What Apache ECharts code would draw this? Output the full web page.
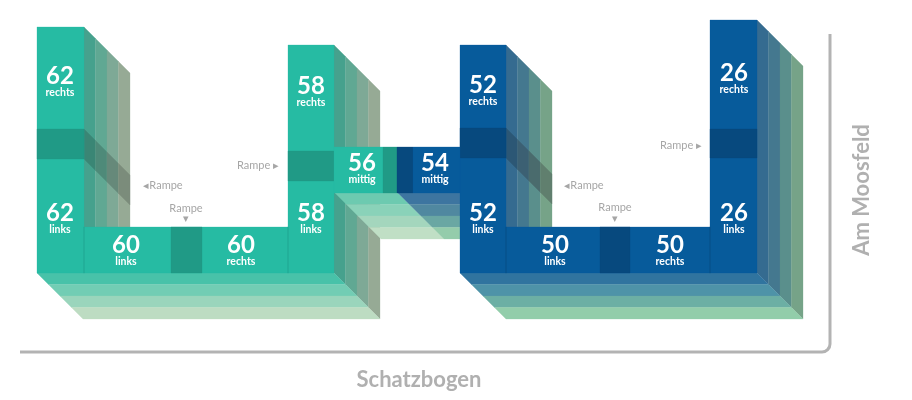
<!DOCTYPE html>
<html>
<head>
<meta charset="utf-8">
<title>Am Moosfeld</title>
<style>
  html, body { margin: 0; padding: 0; background: #fff; }
  #main { width: 912px; height: 400px; }
</style>
</head>
<body>
<div id="main"></div>
<script src="https://cdn.jsdelivr.net/npm/echarts@6/dist/echarts.min.js"></script>
<script>
// Ebenen
var levelNumbers = ['62', '62', '60', '60', '58', '58', '56', '54', '52', '52', '50', '50', '26', '26'];
var levelSides = ['rechts', 'links', 'links', 'rechts', 'rechts', 'links', 'mittig', 'mittig', 'rechts', 'links', 'links', 'rechts', 'rechts', 'links'];
var levelX = [60, 60, 126, 241, 311, 311, 362, 435, 483, 483, 555, 670, 734, 734];
var levelY = [76, 213, 245, 245, 86, 213, 163, 163, 85, 213, 245, 245, 73, 213];

// Rampen-Beschriftung
var rampTexts = ['◂Rampe', 'Rampe', '▾', 'Rampe ▸', '◂Rampe', 'Rampe', '▾', 'Rampe ▸'];
var rampX = [163, 186, 186, 258, 584, 615, 615, 681];
var rampY = [185, 208, 218, 165, 185, 207, 218, 145];

// Strassen
var streetTexts = ['Schatzbogen', 'Am Moosfeld'];
var streetX = [419, 862];
var streetY = [380, 190];

// Gebaeude (Bildkoordinaten auf den versteckten Achsen)
var columnLeft = [37, 288, 460, 710];
var columnRight = [84, 334, 506, 757];
var columnTop = [27, 45, 45, 20];
var columnRampTop = [129, 151, 128, 129];
var columnRampBottom = [159, 181, 158, 158];
var floorY = 273;
var spanTop = 227;
var spanRampLeft = [171, 600];
var spanRampRight = [202, 630];
var bridgeTop = 147;
var bridgeBottom = 193;
var depth = 46;

// Farben
var teal = {
  front: '#26bba3', ramp: '#209a86', line: '#22ab95',
  side: ['#46a18d', '#60a893', '#7ea996', '#96aa95'],
  sideRamp: ['#3a8675', '#4e8a79', '#66897a', '#7b8c7b'],
  floor: ['#48c2a9', '#72cdb4', '#9ad5bc', '#bddcc2'],
  under: ['#6dcab0', '#8ad2b9', '#a4d6bd', '#c0dfc5']
};
var blue = {
  front: '#075b9b', ramp: '#07497e', line: '#06528c',
  side: ['#356b90', '#44788f', '#5a8f8c', '#76a388'],
  sideRamp: ['#2c5775', '#3c6073', '#4a6b6d', '#607f6e'],
  floor: ['#30749f', '#4e93a8', '#6cafa4', '#92cdaa'],
  under: ['#3d75a0', '#5088a0', '#6aa7a3', '#94ccab']
};

var polys = [];
function addPoly(points, color) {
  polys.push({ points: points, color: color });
}
function addRect(x0, y0, x1, y1, color) {
  addPoly([[x0, y0], [x1, y0], [x1, y1], [x0, y1]], color);
}

// Seitenwand einer Saeule, 4 Schichten
function addSide(i, pal, sinks) {
  var x = columnRight[i];
  var top = columnTop[i];
  var step = depth / 4;
  for (var k = 0; k < 4; k++) {
    var a = k * step, b = (k + 1) * step;
    var bottomA = sinks ? floorY + a : spanTop;
    var bottomB = sinks ? floorY + b : spanTop;
    addPoly([[x + a, top + a], [x + b, top + b], [x + b, bottomB], [x + a, bottomA]], pal.side[k]);
    if (!sinks) {
      addPoly([
        [x + a, columnRampTop[i] + a], [x + b, columnRampTop[i] + b],
        [x + b, columnRampBottom[i] + b], [x + a, columnRampBottom[i] + a]
      ], pal.sideRamp[k]);
    }
  }
}

// Boden unter dem U
function addFloor(i, j, pal) {
  var left = columnLeft[i], right = columnRight[j];
  var step = depth / 4;
  for (var k = 0; k < 4; k++) {
    var a = k * step, b = (k + 1) * step;
    addPoly([[left + a, floorY + a], [right + a, floorY + a], [right + b, floorY + b], [left + b, floorY + b]], pal.floor[k]);
  }
}

addSide(0, teal, false);
addSide(1, teal, true);
addSide(2, blue, false);
addSide(3, blue, true);
addFloor(0, 1, teal);
addFloor(2, 3, blue);

// Unterseite der Bruecke
for (var k = 0; k < 4; k++) {
  var a = k * depth / 4, b = (k + 1) * depth / 4;
  var y0 = bridgeBottom + a, y1 = bridgeBottom + b;
  addPoly([[335 + a, y0], [398 + a, y0], [398 + b, y1], [335 + b, y1]], teal.under[k]);
  addPoly([[398 + a, y0], [460, y0], [460, y1], [398 + b, y1]], blue.under[k]);
}

// Front: Saeulen, Spannen, Rampen
[[0, 1, teal, 0], [2, 3, blue, 1]].forEach(function (u) {
  var i = u[0], j = u[1], pal = u[2], s = u[3];
  addRect(columnRight[i], spanTop, columnLeft[j], floorY, pal.front);
  addRect(spanRampLeft[s], spanTop, spanRampRight[s], floorY, pal.ramp);
  [i, j].forEach(function (c) {
    addRect(columnLeft[c], columnTop[c], columnRight[c], floorY, pal.front);
    addRect(columnLeft[c], columnRampTop[c], columnRight[c], columnRampBottom[c], pal.ramp);
  });
  addRect(columnRight[i] - 0.5, spanTop, columnRight[i] + 0.5, floorY, pal.line);
  addRect(columnLeft[j] - 0.5, spanTop, columnLeft[j] + 0.5, floorY, pal.line);
});

// Bruecke
addRect(334, bridgeTop, 383, bridgeBottom, teal.front);
addRect(383, bridgeTop, 397, bridgeBottom, teal.ramp);
addRect(397, bridgeTop, 413, bridgeBottom, blue.ramp);
addRect(413, bridgeTop, 460, bridgeBottom, blue.front);

var fontName = 'Lato, "Noto Sans", sans-serif';

function renderPoly(params, api) {
  var p = polys[api.value(2)];
  return {
    type: 'polygon',
    shape: { points: p.points.map(function (pt) { return api.coord(pt); }) },
    style: { fill: p.color, stroke: p.color, lineWidth: 0.3 }
  };
}

function renderLevel(params, api) {
  var i = api.value(2);
  var c = api.coord([levelX[i], levelY[i]]);
  return {
    type: 'group',
    children: [{
      type: 'text',
      x: c[0], y: c[1],
      style: { text: levelNumbers[i], fill: '#fff', font: 'bold 24px ' + fontName, textAlign: 'center', textVerticalAlign: 'middle' }
    }, {
      type: 'text',
      x: c[0], y: c[1] + 17,
      style: { text: levelSides[i], fill: '#fff', font: 'bold 10.5px ' + fontName, textAlign: 'center', textVerticalAlign: 'middle' }
    }]
  };
}

function renderRamp(params, api) {
  var i = api.value(2);
  var c = api.coord([rampX[i], rampY[i]]);
  return {
    type: 'text',
    x: c[0], y: c[1],
    style: { text: rampTexts[i], fill: '#a6a6a6', font: '11px ' + fontName, textAlign: 'center', textVerticalAlign: 'middle' }
  };
}

function renderStreet(params, api) {
  var i = api.value(2);
  var c = api.coord([streetX[i], streetY[i]]);
  return {
    type: 'text',
    x: c[0], y: c[1],
    rotation: i == 1 ? Math.PI / 2 * 1 : 0,
    style: { text: streetTexts[i], fill: '#b0b0b0', font: 'bold 22px ' + fontName, textAlign: 'center', textVerticalAlign: 'middle' }
  };
}

// Rahmen unten rechts, mit runder Ecke
function renderFrame(params, api) {
  var start = api.coord([20, 352]);
  var corner = api.coord([830, 352]);
  var end = api.coord([830, 34]);
  var r = 8;
  var st = { stroke: '#b3b3b3', lineWidth: 3, fill: null };
  return {
    type: 'group',
    children: [
      { type: 'line', shape: { x1: start[0], y1: start[1], x2: corner[0] - r, y2: corner[1] }, style: st },
      { type: 'line', shape: { x1: corner[0], y1: corner[1] - r, x2: end[0], y2: end[1] }, style: st },
      { type: 'arc', shape: { cx: corner[0] - r, cy: corner[1] - r, r: r, startAngle: 0, endAngle: Math.PI / 2, clockwise: true }, style: st }
    ]
  };
}

var myChart = echarts.init(document.getElementById('main'));
var option = {
  animation: false,
  backgroundColor: '#fff',
  grid: { left: 0, right: 0, top: 0, bottom: 0 },
  xAxis: { type: 'value', min: 0, max: 912, show: false },
  yAxis: { type: 'value', min: 0, max: 400, inverse: true, show: false },
  series: [{
    type: 'custom',
    renderItem: renderFrame,
    silent: true,
    data: [[20, 352, 0]]
  }, {
    type: 'custom',
    renderItem: renderPoly,
    silent: true,
    data: polys.map(function (p, i) { return [p.points[0][0], p.points[0][1], i]; })
  }, {
    type: 'custom',
    renderItem: renderLevel,
    silent: true,
    data: levelNumbers.map(function (n, i) { return [levelX[i], levelY[i], i]; })
  }, {
    type: 'custom',
    renderItem: renderRamp,
    silent: true,
    data: rampTexts.map(function (t, i) { return [rampX[i], rampY[i], i]; })
  }, {
    type: 'custom',
    renderItem: renderStreet,
    silent: true,
    data: streetTexts.map(function (t, i) { return [streetX[i], streetY[i], i]; })
  }]
};
myChart.setOption(option);
</script>
</body>
</html>
